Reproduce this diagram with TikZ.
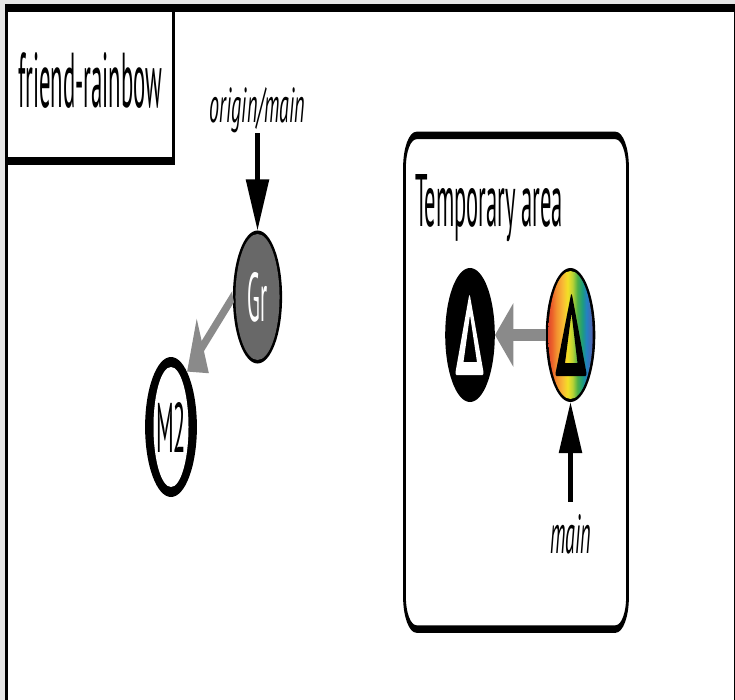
\documentclass[tikz,border=0pt]{standalone}
\usepackage{graphicx}
\usepackage{fontspec}
\setmainfont{PT Sans}
\usetikzlibrary{arrows.meta}
\definecolor{bgc}{HTML}{E6E6E6}
\definecolor{grfill}{HTML}{686868}
\definecolor{arrgray}{HTML}{8A8A8A}
\definecolor{rba}{HTML}{D7382E}
\definecolor{rbb}{HTML}{EB5F2A}
\definecolor{rbc}{HTML}{F39130}
\definecolor{rbd}{HTML}{F8BA36}
\definecolor{rbe}{HTML}{F4E025}
\definecolor{rbf}{HTML}{B9D335}
\definecolor{rbg}{HTML}{4BAF48}
\definecolor{rbh}{HTML}{1D9C7E}
\definecolor{rbi}{HTML}{2281C2}
\definecolor{rbj}{HTML}{4B66B0}
\definecolor{rbk}{HTML}{74509F}
\pgfdeclarehorizontalshading{rainbowsh}{100bp}{color(0bp)=(rba); color(25bp)=(rba); color(31bp)=(rbb); color(36bp)=(rbc); color(42bp)=(rbd); color(47bp)=(rbe); color(52bp)=(rbf); color(57bp)=(rbg); color(62bp)=(rbh); color(66bp)=(rbi); color(71bp)=(rbj); color(75bp)=(rbk); color(100bp)=(rbk)}
\tikzset{
  txt/.style={inner sep=0pt, outer sep=0pt},
  commit/.style={circle, inner sep=0pt, outer sep=0pt, fill=black},
  framebox/.style={draw, line width=8pt, inner sep=0pt, outer sep=0pt},
  blackarrow/.style={draw=black, line width=13pt, -{Triangle[length=51pt,width=60pt]}},
  grayarrow/.style={draw=arrgray, line width=12pt, -{Triangle[length=50pt,width=60pt]}},
}
\begin{document}
\begin{tikzpicture}
\useasboundingbox (0,0) rectangle (735pt,-700pt);
\begin{scope}[transform canvas={xscale=0.37}, x=2.7027pt, y=-1pt]
  % background and outer frame
  \fill[bgc] (0,0) rectangle (735,700);
  \draw[line width=8pt, fill=white] (6.7,8) rectangle (735,760);
  % title box
  \node[framebox, anchor=north west, minimum width=451.4pt, minimum height=153pt] (title) at (6.7,8) {};
  \node[txt, anchor=base west] (titletext) at (18.3,108) {\resizebox{389.2pt}{55pt}{friend-rainbow}};
  % temporary area
  \node[draw, line width=7.5pt, rounded corners=32pt, inner sep=0pt, outer sep=0pt, anchor=north west, minimum width=602.7pt, minimum height=493.5pt] (area) at (404.5,135.5) {};
  \node[txt, anchor=base west] (areatext) at (415,227) {\resizebox{400pt}{52pt}{Temporary area}};
  % commits
  \node[commit, minimum size=133pt, text=white,
        path picture={\fill[grfill] (path picture bounding box.center) ellipse [x radius=59.5pt, y radius=63pt];}]
        (Gr) at (257.5,297) {\resizebox{54pt}{49pt}{Gr}};
  \node[commit, minimum size=140pt,
        path picture={\fill[white] (path picture bounding box.center) ellipse [x radius=47.3pt, y radius=60pt];}]
        (M2) at (171,427) {\resizebox{81pt}{50pt}{M2}};
  \node[commit, minimum size=134pt] (B) at (470,335) {};
  \node[commit, minimum size=134pt,
        path picture={\shade[shading=rainbowsh] (path picture bounding box.center) ellipse [x radius=60pt, y radius=64pt];}]
        (R) at (570.5,335) {};
  % triangle marks
  \fill[white, even odd rule] [rounded corners=4pt] (469.5,293) -- (484,375) -- (455,375) -- cycle [sharp corners] (470,315) -- (477,362) -- (463.5,362) -- cycle;
  \fill[black, even odd rule] [rounded corners=4pt] (571.5,292) -- (587,376) -- (555,376) -- cycle [sharp corners] (571.5,313) -- (577.5,363) -- (565,363) -- cycle;
  % labels
  \node[txt, anchor=base] (om) at (257.5,123) {\resizebox{256.8pt}{35pt}{\itshape origin/main}};
  \node[txt, anchor=base] (ml) at (570.5,553) {\resizebox{110.8pt}{39pt}{\itshape main}};
  % connectors
  \draw[blackarrow] (om.south) -- (Gr.north);
  \draw[blackarrow] ([yshift=12pt]ml.north) -- (R.south);
  \draw[grayarrow] (Gr.west) -- (M2.52);
  \draw[grayarrow] (R.west) -- (B.east);
\end{scope}
\end{tikzpicture}
\end{document}
